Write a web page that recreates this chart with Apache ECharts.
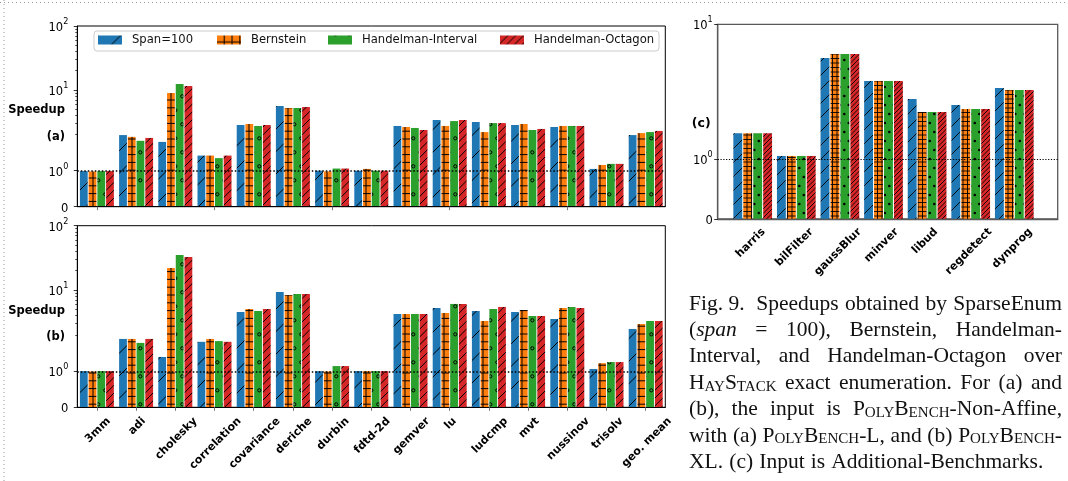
<!DOCTYPE html>
<html>
<head>
<meta charset="utf-8">
<title>Fig. 9 Speedups</title>
<script src="https://cdn.jsdelivr.net/npm/echarts@6.0.0/dist/echarts.min.js"></script>
<style>
html,body{margin:0;padding:0;background:#fff;overflow:hidden;}
#chart{width:1068px;height:481px;}
</style>
</head>
<body>
<div id="chart"></div>
<script>
// ---------------- data ----------------
const seriesNames = ['Span=100', 'Bernstein', 'Handelman-Interval', 'Handelman-Octagon'];
const polyCats = ['3mm', 'adi', 'cholesky', 'correlation', 'covariance', 'deriche', 'durbin', 'fdtd-2d',
  'gemver', 'lu', 'ludcmp', 'mvt', 'nussinov', 'trisolv', 'geo. mean'];
const addCats = ['harris', 'bilFilter', 'gaussBlur', 'minver', 'libud', 'regdetect', 'dynprog'];

// (a) PolyBench-L
const aSpan = [0.99, 1.99, 1.80, 1.42, 2.84, 5.61, 1.00, 1.00, 2.74, 3.40, 3.16, 2.84, 2.64, 1.05, 1.99];
const aBern = [0.98, 1.94, 8.97, 1.42, 2.94, 5.22, 0.98, 1.05, 2.64, 2.74, 2.20, 2.94, 2.74, 1.16, 2.12];
const aHInt = [0.99, 1.83, 12.4, 1.35, 2.74, 5.22, 1.06, 1.00, 2.55, 3.27, 3.04, 2.37, 2.74, 1.19, 2.20];
const aHOct = [0.99, 1.91, 11.5, 1.42, 2.84, 5.42, 1.06, 1.00, 2.37, 3.40, 3.04, 2.46, 2.74, 1.19, 2.29];
// (b) PolyBench-XL
const bSpan = [1.00, 1.89, 1.39, 1.81, 4.55, 9.31, 1.00, 1.00, 4.24, 5.25, 4.72, 4.55, 3.55, 1.06, 2.48];
const bBern = [0.99, 1.89, 22.0, 1.89, 5.07, 8.36, 0.99, 1.00, 4.24, 4.40, 3.30, 4.89, 5.25, 1.22, 2.96];
const bHInt = [1.00, 1.78, 35.0, 1.83, 4.72, 8.67, 1.14, 1.00, 4.24, 6.07, 5.07, 3.94, 5.45, 1.25, 3.30];
const bHOct = [1.00, 1.89, 32.6, 1.81, 5.07, 8.67, 1.14, 1.00, 4.24, 6.07, 5.45, 3.94, 5.25, 1.25, 3.30];
// (c) Additional-Benchmarks
const cSpan = [1.43, 1.05, 4.84, 2.94, 2.00, 1.90, 2.53];
const cBern = [1.43, 1.05, 5.28, 2.94, 1.78, 1.83, 2.42];
const cHInt = [1.43, 1.05, 5.28, 2.94, 1.78, 1.83, 2.42];
const cHOct = [1.43, 1.05, 5.28, 2.94, 1.78, 1.83, 2.42];

// y ticks (symlog scale)
const majorTicksAB = [0, 1, 10, 100];
const majorLabelsAB = ['0', '10^0', '10^1', '10^2'];
const majorTicksC = [0, 1, 10];
const majorLabelsC = ['0', '10^0', '10^1'];
const minorTicksAB = [2, 3, 4, 5, 6, 7, 8, 9, 20, 30, 40, 50, 60, 70, 80, 90];
const baseline = 1;

// caption (~x~ small caps, _x_ italic)
const captionLines = [
  ['Fig. 9. ', 'Speedups', 'obtained', 'by', 'SparseEnum'],
  ['(_span_', '=', '100),', 'Bernstein,', 'Handelman-'],
  ['Interval,', 'and', 'Handelman-Octagon', 'over'],
  ['H~ay~S~tack~', 'exact', 'enumeration.', 'For', '(a)', 'and'],
  ['(b),', 'the', 'input', 'is', 'P~oly~B~ench~-Non-Affine,'],
  ['with', '(a)', 'P~oly~B~ench~-L,', 'and', '(b)', 'P~oly~B~ench~-'],
  ['XL.', '(c)', 'Input', 'is', 'Additional-Benchmarks.']
];

// ---------------- scale: matplotlib symlog (linthresh 2, linscale 1) ----------------
const LIN_T = 2, LIN_DEC = 1.125;
function sl(v) { return v <= LIN_T ? (v / LIN_T) * LIN_DEC : LIN_DEC + Math.log10(v / LIN_T); }

const FF = '"DejaVu Sans", Verdana, sans-serif';
const BLUE = '#1f77b4', ORANGE = '#ff7f0e', GREEN = '#2ca02c', RED = '#d62728';

// ---------------- hatch patterns ----------------
function tile(w, h, bg, draw) {
  const c = document.createElement('canvas');
  c.width = w; c.height = h;
  const g = c.getContext('2d');
  g.fillStyle = bg; g.fillRect(0, 0, w, h);
  g.strokeStyle = '#000'; g.fillStyle = '#000';
  draw(g);
  return { image: c, repeat: 'repeat' };
}
function diag(bg, size, n, lw, ph) {
  return tile(size, size, bg, g => {
    g.lineWidth = lw;
    for (let i = 0; i < n; i++) for (let j = -1; j <= 2; j++) {
      const c = ph + i * size / n + j * size;
      g.beginPath(); g.moveTo(c + 2, -2); g.lineTo(c - size - 2, size + 2); g.stroke();
    }
  });
}
function gridT(bg, size, n, lw, phx, phy) {
  return tile(size, size, bg, g => {
    g.lineWidth = lw;
    for (let i = 0; i < n; i++) for (let j = -1; j <= 1; j++) {
      const x = phx + i * size / n + j * size, y = phy + i * size / n + j * size;
      g.beginPath(); g.moveTo(x, 0); g.lineTo(x, size); g.stroke();
      g.beginPath(); g.moveTo(0, y); g.lineTo(size, y); g.stroke();
    }
  });
}
function dotsT(bg, s, r, filled, lw, px, py) {
  return tile(s, 2 * s, bg, g => {
    g.lineWidth = lw;
    const pts = [[px, py], [px + s / 2, py + s]];
    for (const [x0, y0] of pts) for (let i = -1; i <= 1; i++) for (let j = -1; j <= 1; j++) {
      g.beginPath(); g.arc(x0 + i * s, y0 + j * 2 * s, r, 0, 2 * Math.PI);
      if (filled) g.fill(); else g.stroke();
    }
  });
}
const patAB = [
  diag(BLUE, 45, 2, 1, 0),
  gridT(ORANGE, 39, 5, 1, 7.2, 6.4),
  dotsT(GREEN, 14, 1.6, false, 1, 0.3, 12.3),
  diag(RED, 39, 5, 1, 0)
];
const patC = [
  diag(BLUE, 14, 1, 0.9, 0),
  gridT(ORANGE, 9, 2, 0.9, 0, 0),
  dotsT(GREEN, 9, 1.3, true, 0, 7.3, 6),
  diag(RED, 9, 2, 0.9, 0)
];

// ---------------- helpers ----------------
const mctx = document.createElement('canvas').getContext('2d');
function textW(t, font) { mctx.font = font; return mctx.measureText(t).width; }

function yRich(fs) {
  return {
    b: { fontFamily: FF, fontSize: fs, lineHeight: 16, verticalAlign: 'bottom', color: '#000' },
    s: { fontFamily: FF, fontSize: fs * 0.7, lineHeight: 8, verticalAlign: 'top', color: '#000' }
  };
}
function yFormatter(ticks, labels) {
  const pos = ticks.map(sl);
  return function (v) {
    const i = pos.findIndex(p => Math.abs(p - v) < 1e-6);
    if (i < 0) return '';
    const lab = labels[i];
    if (lab.indexOf('^') < 0) return '{b|' + lab + '}';
    const parts = lab.split('^');
    return '{b|' + parts[0] + '}{s|' + parts[1] + '}';
  };
}
// rotated (45deg) labels centred under the tick like matplotlib ha='center'
function rotLabels(cats, fs, gap, dx) {
  const lh = fs + 2, rich = {};
  cats.forEach((t, i) => {
    const L = textW(t, 'bold ' + fs + 'px ' + FF);
    const box = (L + lh) / Math.SQRT2;
    const D = gap + box / 2;
    const v = (dx + D) / Math.SQRT2, u = (dx - D) / Math.SQRT2;
    rich['r' + i] = {
      fontFamily: FF, fontWeight: 'bold', fontSize: fs, lineHeight: lh, color: '#000',
      padding: [Math.max(0, 2 * v), Math.max(0, -2 * u), Math.max(0, -2 * v), Math.max(0, 2 * u)]
    };
  });
  return {
    show: true, interval: 0, rotate: 45, margin: 0, align: 'center', verticalAlign: 'middle',
    rich: rich, formatter: (val, idx) => '{r' + idx + '|' + val + '}'
  };
}
function barSeries(names, arrs, pats, xi, yi, gap, catGap) {
  return arrs.map((arr, k) => ({
    type: 'bar', name: names[k], xAxisIndex: xi, yAxisIndex: yi,
    data: arr.map(sl), barGap: gap, barCategoryGap: catGap,
    itemStyle: { color: pats[k], borderWidth: 0 },
    emphasis: { disabled: true }, silent: true
  }));
}
function refLine(xi, yi, dash, w) {
  return {
    type: 'line', xAxisIndex: xi, yAxisIndex: yi, data: [], silent: true, z: 6,
    markLine: {
      silent: true, symbol: 'none', label: { show: false }, animation: false,
      lineStyle: { type: dash, color: '#000', width: w },
      emphasis: { disabled: true },
      data: [{ yAxis: sl(baseline) }]
    }
  };
}
function yMain(gi, maxV, ticks, labels, color, lw, margin) {
  const pos = ticks.map(sl);
  return {
    gridIndex: gi, type: 'value', min: 0, max: sl(maxV), position: 'left',
    axisLine: { show: true, lineStyle: { color: color, width: lw } },
    axisTick: { show: true, length: 3.5, customValues: pos, lineStyle: { color: '#000', width: 0.8 } },
    axisLabel: { show: true, customValues: pos, margin: margin, formatter: yFormatter(ticks, labels), rich: yRich(11.5) },
    splitLine: { show: false }, z: 3
  };
}
function yMinor(gi, maxV) {
  return {
    gridIndex: gi, type: 'value', min: 0, max: sl(maxV), position: 'left', offset: 0,
    axisLine: { show: false }, axisLabel: { show: false }, splitLine: { show: false },
    axisTick: { show: true, length: 2, customValues: minorTicksAB.map(sl), lineStyle: { color: '#000', width: 0.7 } }
  };
}

// ---------------- caption layout (justified) ----------------
const CAP_FS = 21.5, SC = 0.7, CAP_FF = '"Liberation Serif", "DejaVu Serif", serif';
function parseWord(w) {
  const segs = []; let cur = '', mode = 'n';
  for (const ch of w) {
    if (ch === '~' || ch === '_') {
      if (cur) segs.push([mode, cur]);
      cur = '';
      const m = ch === '~' ? 'sc' : 'i';
      mode = mode === m ? 'n' : m;
    } else cur += ch;
  }
  if (cur) segs.push([mode, cur]);
  return segs;
}
function segFont(m) {
  if (m === 'sc') return (CAP_FS * SC) + 'px ' + CAP_FF;
  if (m === 'i') return 'italic ' + CAP_FS + 'px ' + CAP_FF;
  return CAP_FS + 'px ' + CAP_FF;
}
function segText(m, t) { return m === 'sc' ? t.toUpperCase() : t; }
const capRich = {
  n: { fontFamily: CAP_FF, fontSize: CAP_FS, lineHeight: 26, verticalAlign: 'bottom', fill: '#111', color: '#111' },
  i: { fontFamily: CAP_FF, fontSize: CAP_FS, fontStyle: 'italic', lineHeight: 26, verticalAlign: 'bottom', fill: '#111', color: '#111' },
  sc: { fontFamily: CAP_FF, fontSize: CAP_FS * SC, lineHeight: 26 - 2 * 0.3 * CAP_FS * (1 - SC), verticalAlign: 'bottom', fill: '#111', color: '#111' }
};
const CAP_X0 = 689, CAP_X1 = 1062, CAP_Y0 = 302, CAP_DY = 26.4;
const captionEls = [];
captionLines.forEach((words, li) => {
  const parsed = words.map(parseWord);
  const widths = parsed.map(segs => segs.reduce((s, [m, t]) => s + textW(segText(m, t), segFont(m)), 0));
  const total = widths.reduce((a, b) => a + b, 0);
  const last = li === captionLines.length - 1;
  const gap = last ? textW(' ', segFont('n')) * 1.15 : (CAP_X1 - CAP_X0 - total) / (words.length - 1);
  let x = CAP_X0;
  parsed.forEach((segs, wi) => {
    captionEls.push({
      type: 'text', x: x, y: CAP_Y0 + li * CAP_DY, silent: true,
      style: {
        text: segs.map(([m, t]) => '{' + m + '|' + segText(m, t) + '}').join(''),
        rich: capRich, align: 'left', verticalAlign: 'middle', textAlign: 'left', textVerticalAlign: 'middle'
      }
    });
    x += widths[wi] + gap;
  });
});

function label(text, x, y, fs) {
  return {
    type: 'text', x: x, y: y, silent: true,
    style: { text: text, font: 'bold ' + fs + 'px ' + FF, fill: '#000', align: 'right', verticalAlign: 'middle', textAlign: 'right', textVerticalAlign: 'middle' }
  };
}

// ---------------- option ----------------
const legendStarts = [98, 217, 328, 500];
const cNames = seriesNames.map(n => '(c) ' + n);

const option = {
  animation: false,
  backgroundColor: '#fff',
  textStyle: { fontFamily: FF },
  grid: [
    { left: 77.3, top: 26, width: 588, height: 180.7, show: true, borderColor: '#000', borderWidth: 1 },
    { left: 77.3, top: 225.7, width: 588, height: 181.6, show: true, borderColor: '#000', borderWidth: 1 },
    { left: 717.7, top: 24.3, width: 340, height: 194.7, show: true, borderColor: '#5a5a5a', borderWidth: 1.3 },
    { left: 730.9, top: 24.3, width: 305.2, height: 194.7, show: false }
  ],
  xAxis: [
    { gridIndex: 0, type: 'category', data: polyCats, z: 3,
      axisLine: { show: true, lineStyle: { color: '#000', width: 1 } },
      axisTick: { show: true, alignWithLabel: true, length: 3.5, lineStyle: { color: '#777' } },
      axisLabel: { show: false } },
    { gridIndex: 1, type: 'category', data: polyCats, z: 3,
      axisLine: { show: true, lineStyle: { color: '#000', width: 1 } },
      axisTick: { show: true, alignWithLabel: true, length: 3.5, lineStyle: { color: '#777' } },
      axisLabel: rotLabels(polyCats, 11, 7.5, 1) },
    { gridIndex: 2, type: 'value', min: 0, max: 1, z: 3,
      axisLine: { show: true, lineStyle: { color: '#5a5a5a', width: 1.3 } },
      axisTick: { show: false }, axisLabel: { show: false }, splitLine: { show: false } },
    { gridIndex: 3, type: 'category', data: addCats,
      axisLine: { show: false }, axisTick: { show: false },
      axisLabel: rotLabels(addCats, 11, 6.5, -2) }
  ],
  yAxis: [
    yMain(0, 100, majorTicksAB, majorLabelsAB, '#000', 1, 9),
    yMinor(0, 100),
    yMain(1, 100, majorTicksAB, majorLabelsAB, '#000', 1, 9),
    yMinor(1, 100),
    yMain(2, 10, majorTicksC, majorLabelsC, '#5a5a5a', 1.3, 5),
    { gridIndex: 3, type: 'value', min: 0, max: sl(10), show: false }
  ],
  legend: seriesNames.map((n, i) => ({
    data: [n], left: legendStarts[i], top: 33, padding: 0, itemWidth: 24, itemHeight: 9,
    icon: 'rect', selectedMode: false, z: 5,
    textStyle: { fontFamily: FF, fontSize: 11.6, color: '#111', lineHeight: 14, padding: [0, 0, 0, 5] }
  })),
  series: [].concat(
    barSeries(seriesNames, [aSpan, aBern, aHInt, aHOct], patAB, 0, 0, '12%', '13.3%'),
    [refLine(0, 0, [1.5, 2], 1.5)],
    barSeries(seriesNames, [bSpan, bBern, bHInt, bHOct], patAB, 1, 2, '12%', '13.3%'),
    [refLine(1, 2, [1.5, 2], 1.5)],
    barSeries(cNames, [cSpan, cBern, cHInt, cHOct], patC, 3, 5, '12%', '11.2%'),
    [refLine(2, 4, [1.2, 1.6], 1.1)]
  ),
  graphic: [
    { type: 'line', silent: true, shape: { x1: 4, y1: 0, x2: 4, y2: 481 }, style: { stroke: '#999', lineWidth: 1, lineDash: [1, 3] } },
    { type: 'line', silent: true, shape: { x1: 0, y1: 2.5, x2: 1068, y2: 2.5 }, style: { stroke: '#999', lineWidth: 1, lineDash: [1, 3] } },
    { type: 'rect', silent: true, z: 3, shape: { x: 94, y: 31, width: 565, height: 20, r: 3 }, style: { fill: 'rgba(255,255,255,0.85)', stroke: '#cccccc', lineWidth: 1 } },
    label('Speedup', 65, 110, 11.5),
    label('(a)', 65, 137, 11.5),
    label('Speedup', 65, 311, 11.5),
    label('(b)', 65, 337, 11.5),
    label('(c)', 710.7, 124, 12.5)
  ].concat(captionEls)
};

const chart = echarts.init(document.getElementById('chart'), null, { renderer: 'canvas' });
chart.setOption(option);
</script>
</body>
</html>
